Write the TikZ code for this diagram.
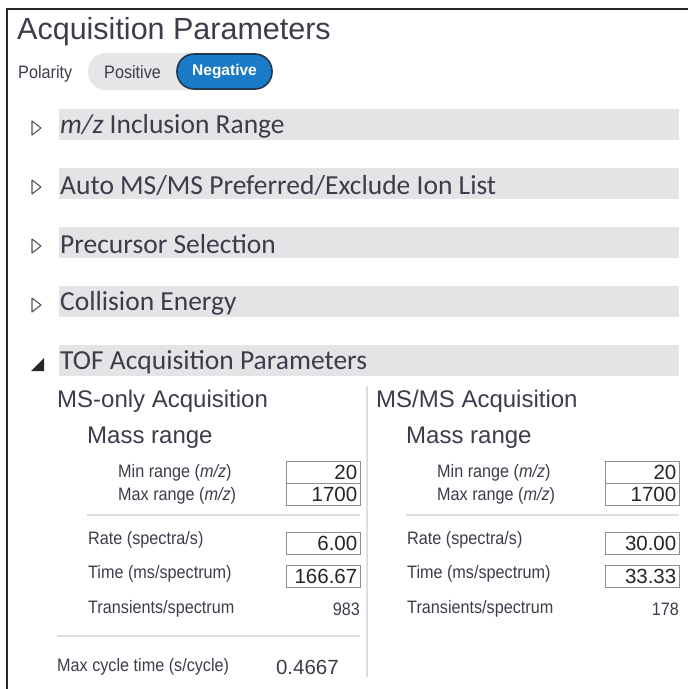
\documentclass[tikz,border=0pt]{standalone}
\usepackage{fontspec}
\setmainfont{Liberation Sans}
\newfontfamily\uifont[FakeStretch=0.9]{Liberation Sans}
\newfontfamily\hdfont{Carlito}
\usepackage{tikz}
\usepackage{xcolor}

\definecolor{txt}{HTML}{3C3C4A}
\definecolor{bargray}{HTML}{E4E4E6}
\definecolor{pillgray}{HTML}{E6E6E9}
\definecolor{negblue}{HTML}{1B7BC6}
\definecolor{negline}{HTML}{22384F}
\definecolor{boxline}{HTML}{8E8E8E}
\definecolor{rulegray}{HTML}{DEDEE0}
\definecolor{tri}{HTML}{555555}

\tikzset{
  title/.style={anchor=base west, inner sep=0pt, text=txt, font=\fontsize{30.5}{34}\selectfont},
  ui/.style={anchor=west, inner sep=0pt, text=txt, font=\uifont\fontsize{18}{20}\selectfont},
  num/.style={anchor=east, inner sep=0pt, text=txt, font=\fontsize{20.5}{22}\selectfont},
  sub/.style={anchor=west, inner sep=0pt, text=txt, font=\fontsize{24}{27}\selectfont},
  hdr/.style={anchor=west, inner sep=0pt, text=txt, font=\hdfont\fontsize{27.5}{30}\selectfont},
  field/.style={anchor=east, draw=boxline, fill=white, minimum width=74pt, minimum height=22pt,
    text width=69pt, align=right, inner xsep=2.5pt, inner ysep=0pt, text=black!85,
    font=\fontsize{20.5}{22}\selectfont},
  negbtn/.style={draw=negline, line width=1.6pt, fill=negblue, rounded corners=17pt,
    minimum width=95pt, minimum height=35pt, text=white, font=\bfseries\fontsize{15.5}{18}\selectfont},
  rule/.style={draw=rulegray, line width=1.5pt}
}

\begin{document}
\begin{tikzpicture}[x=1pt,y=-1pt]
\useasboundingbox (0,0) rectangle (688,689);
\draw [line width=1.3pt, black!85] (688,9) -- (7,9) -- (7,689);

\node [title] (title) at (17,39) {Acquisition Parameters};
\node [ui, anchor=base west] (pol) at (18,78) {Polarity};
\fill [pillgray, rounded corners=18pt] (88,53) rectangle (272,90);
\node [ui] (pos) at (104,72) {Positive};
\node [negbtn] (neg) at (224.5,71.5) {Negative};

\foreach \y/\t [count=\i] in {109/{\textit{m/z} Inclusion Range},
    168/{Auto MS/MS Preferred/Exclude Ion List},
    227/{Precursor Selection}, 286/{Collision Energy}} {
  \fill [bargray] (59,\y) rectangle (679,\y+31);
  \node [hdr] (sec\i) at (60,\y+17.5) {\t};
  \draw [tri, line width=1.1pt, line join=round] (32,\y+12) -- (32,\y+26) -- (41,\y+19) -- cycle;
}
\fill [bargray] (59,345) rectangle (679,376);
\node [hdr] (tof) at (60,362.5) {TOF Acquisition Parameters};
\fill [black!85] (31,371) -- (44,371) -- (44,358) -- cycle;

\draw [rule] (367,386) -- (367,677);

\foreach \dx/\col/\ttl/\rate/\tm/\trans in {0/l/{MS-only Acquisition}/6.00/166.67/983,
    319/r/{MS/MS Acquisition}/30.00/33.33/178} {
  \begin{scope}[shift={(\dx,0)}]
  \node [sub] (\col-title) at (57,401) {\ttl};
  \node [sub] (\col-mass) at (87,438) {Mass range};
  \node [ui] (\col-min) at (118,472.5) {Min range (\textit{m/z})};
  \node [field] (\col-minv) at (360,472) {20};
  \node [ui] (\col-max) at (118,496) {Max range (\textit{m/z})};
  \node [field] (\col-maxv) at (360,494) {1700};
  \draw [rule] (87,515) -- (360,515);
  \node [ui] (\col-rate) at (88,540) {Rate (spectra/s)};
  \node [field] (\col-ratev) at (360,543) {\rate};
  \node [ui] (\col-time) at (88,574) {Time (ms/spectrum)};
  \node [field] (\col-timev) at (360,576) {\tm};
  \node [ui] (\col-trans) at (88,609) {Transients/spectrum};
  \node [ui, anchor=east] (\col-transv) at (360,609) {\trans};
  \end{scope}
}

\draw [rule] (57,636) -- (360,636);
\node [ui] (cycle) at (57,667) {Max cycle time (s/cycle)};
\node [num] (cyclev) at (339,667) {0.4667};
\end{tikzpicture}
\end{document}
